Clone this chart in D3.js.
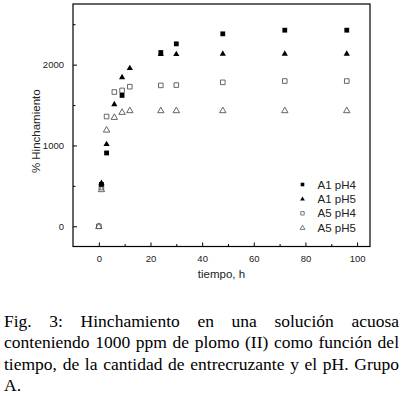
<!DOCTYPE html>
<html>
<head>
<meta charset="utf-8">
<script src="https://cdn.jsdelivr.net/npm/d3@7"></script>
<style>
  html, body { margin: 0; padding: 0; background: #fff; }
  svg { display: block; }
</style>
</head>
<body>
<div id="chart"></div>
<script>
const WIDTH = 403;
const HEIGHT = 396;

// plot frame in page pixels
const LEFT = 73, RIGHT = 370, TOP = 4, BOTTOM = 246.5;
const SANS = "'Liberation Sans', Arial, sans-serif";
const SERIF = "'Liberation Serif', 'Times New Roman', serif";

// data
var tiempoA1pH4 = [1, 3, 9, 24, 30, 48, 72, 96];
var hinchA1pH4 = [518, 907, 1619, 2150, 2257, 2381, 2426, 2426];

var tiempoA1pH5 = [1, 3, 6, 9, 12, 24, 30, 48, 72, 96];
var hinchA1pH5 = [538, 1019, 1512, 1847, 1959, 2133, 2133, 2137, 2137, 2137];

var tiempoA5pH4 = [0, 1, 3, 6, 9, 12, 24, 30, 48, 72, 96];
var hinchA5pH4 = [0, 480, 1358, 1661, 1681, 1727, 1743, 1747, 1781, 1797, 1797];

var tiempoA5pH5 = [0, 1, 3, 6, 9, 12, 24, 30, 48, 72, 96];
var hinchA5pH5 = [0, 456, 1193, 1350, 1412, 1433, 1433, 1433, 1433, 1433, 1433];

var xTicks = [0, 20, 40, 60, 80, 100];
var xMinorTicks = [10, 30, 50, 70, 90];
var yTicks = [0, 1000, 2000];
var yMinorTicks = [500, 1500, 2500];

var legendLabels = ['A1 pH4', 'A1 pH5', 'A5 pH4', 'A5 pH5'];

var captionLines = [
    'Fig. 3: Hinchamiento en una solución acuosa',
    'conteniendo 1000 ppm de plomo (II) como función del',
    'tiempo, de la cantidad de entrecruzante y el pH. Grupo',
    'A.'
];

var xScale = d3.scaleLinear().domain([-10, 105]).range([LEFT, RIGHT]);
var yScale = d3.scaleLinear().domain([-250, 2750]).range([BOTTOM, TOP]);

var svg = d3.select('#chart').append('svg')
    .attr('width', WIDTH)
    .attr('height', HEIGHT);

function trianglePath(w, h) {
    return 'M0,' + (-h * 0.6) + 'L' + (w / 2) + ',' + (h * 0.4) + 'L' + (-w / 2) + ',' + (h * 0.4) + 'Z';
}
function squarePath(s) {
    return 'M' + (-s / 2) + ',' + (-s / 2) + 'h' + s + 'v' + s + 'h' + (-s) + 'Z';
}

var markers = {
    'A1 pH4': { d: squarePath(4.8), fill: '#000', stroke: 'none' },
    'A1 pH5': { d: trianglePath(6.2, 5.4), fill: '#000', stroke: 'none' },
    'A5 pH4': { d: squarePath(4.6), fill: 'none', stroke: '#555' },
    'A5 pH5': { d: trianglePath(6.4, 5.6), fill: 'none', stroke: '#555' }
};
var legendMarkers = {
    'A1 pH4': { d: squarePath(3.6), fill: '#000', stroke: 'none' },
    'A1 pH5': { d: trianglePath(4.8, 4.2), fill: '#000', stroke: 'none' },
    'A5 pH4': { d: squarePath(3.4), fill: 'none', stroke: '#555' },
    'A5 pH5': { d: trianglePath(4.8, 4.2), fill: 'none', stroke: '#555' }
};

function drawAxes() {
    var g = svg.append('g');

    // frame
    g.append('rect')
        .attr('x', LEFT).attr('y', TOP)
        .attr('width', RIGHT - LEFT).attr('height', BOTTOM - TOP)
        .attr('fill', 'none').attr('stroke', '#000').attr('stroke-width', 1.2);

    var xAxis = d3.axisBottom(xScale).tickValues(xTicks).tickSize(-4).tickPadding(9).tickFormat(d3.format('d'));
    g.append('g').attr('transform', 'translate(0,' + BOTTOM + ')').call(xAxis);
    var xMinor = d3.axisBottom(xScale).tickValues(xMinorTicks).tickSize(-2.5).tickFormat('');
    g.append('g').attr('transform', 'translate(0,' + BOTTOM + ')').call(xMinor);

    var yAxis = d3.axisLeft(yScale).tickValues(yTicks).tickSize(-4).tickPadding(9).tickFormat(d3.format('d'));
    g.append('g').attr('transform', 'translate(' + LEFT + ',0)').call(yAxis);
    var yMinor = d3.axisLeft(yScale).tickValues(yMinorTicks).tickSize(-2.5).tickFormat('');
    g.append('g').attr('transform', 'translate(' + LEFT + ',0)').call(yMinor);

    g.selectAll('.domain').remove();
    g.selectAll('.tick line').attr('stroke', '#000').attr('stroke-width', 1);
    g.selectAll('.tick text')
        .attr('font-family', SANS)
        .attr('font-size', '9.5px')
        .attr('fill', '#222');

    svg.append('text')
        .attr('transform', 'translate(40,' + ((TOP + BOTTOM) / 2 + 6) + ') rotate(-90)')
        .attr('text-anchor', 'middle')
        .attr('font-family', SANS)
        .attr('font-size', '11.5px')
        .attr('fill', '#222')
        .text('% Hinchamiento');

    svg.append('text')
        .attr('x', (LEFT + RIGHT) / 2)
        .attr('y', 278)
        .attr('text-anchor', 'middle')
        .attr('font-family', SANS)
        .attr('font-size', '11.5px')
        .attr('fill', '#222')
        .text('tiempo, h');
}

function drawSeries(name, xs, ys) {
    var m = markers[name];
    var pts = xs.map(function (x, i) { return { x: x, y: ys[i] }; });
    svg.append('g').selectAll('path').data(pts).enter().append('path')
        .attr('transform', function (d) {
            return 'translate(' + xScale(d.x) + ',' + yScale(d.y) + ')';
        })
        .attr('d', m.d)
        .attr('fill', m.fill)
        .attr('stroke', m.stroke)
        .attr('stroke-width', 0.9);
}

function drawLegend() {
    var g = svg.append('g');
    legendLabels.forEach(function (name, i) {
        var y = 184.5 + i * 14.4;
        var m = legendMarkers[name];
        g.append('path')
            .attr('transform', 'translate(302.5,' + y + ')')
            .attr('d', m.d)
            .attr('fill', m.fill)
            .attr('stroke', m.stroke)
            .attr('stroke-width', 0.8);
        g.append('text')
            .attr('x', 317.5)
            .attr('y', y + 4)
            .attr('font-family', SANS)
            .attr('font-size', '11.5px')
            .attr('fill', '#222')
            .text(name);
    });
}

// justified caption, word by word
function drawCaption() {
    var x0 = 4, x1 = 399;
    var g = svg.append('g')
        .attr('font-family', SERIF)
        .attr('font-size', '17.5px')
        .attr('fill', '#000');
    captionLines.forEach(function (line, i) {
        var y = 327 + i * 21.3;
        var words = line.split(' ');
        var nodes = words.map(function (w) {
            return g.append('text').attr('y', y).text(w);
        });
        var widths = nodes.map(function (n) { return n.node().getComputedTextLength(); });
        var total = d3.sum(widths);
        var last = i === captionLines.length - 1;
        var gap = (last || words.length < 2) ? 4.4 : (x1 - x0 - total) / (words.length - 1);
        var x = x0;
        nodes.forEach(function (n, j) {
            n.attr('x', x);
            x += widths[j] + gap;
        });
    });
}

drawAxes();
drawSeries('A5 pH5', tiempoA5pH5, hinchA5pH5);
drawSeries('A5 pH4', tiempoA5pH4, hinchA5pH4);
drawSeries('A1 pH5', tiempoA1pH5, hinchA1pH5);
drawSeries('A1 pH4', tiempoA1pH4, hinchA1pH4);
drawLegend();
drawCaption();
</script>
</body>
</html>
